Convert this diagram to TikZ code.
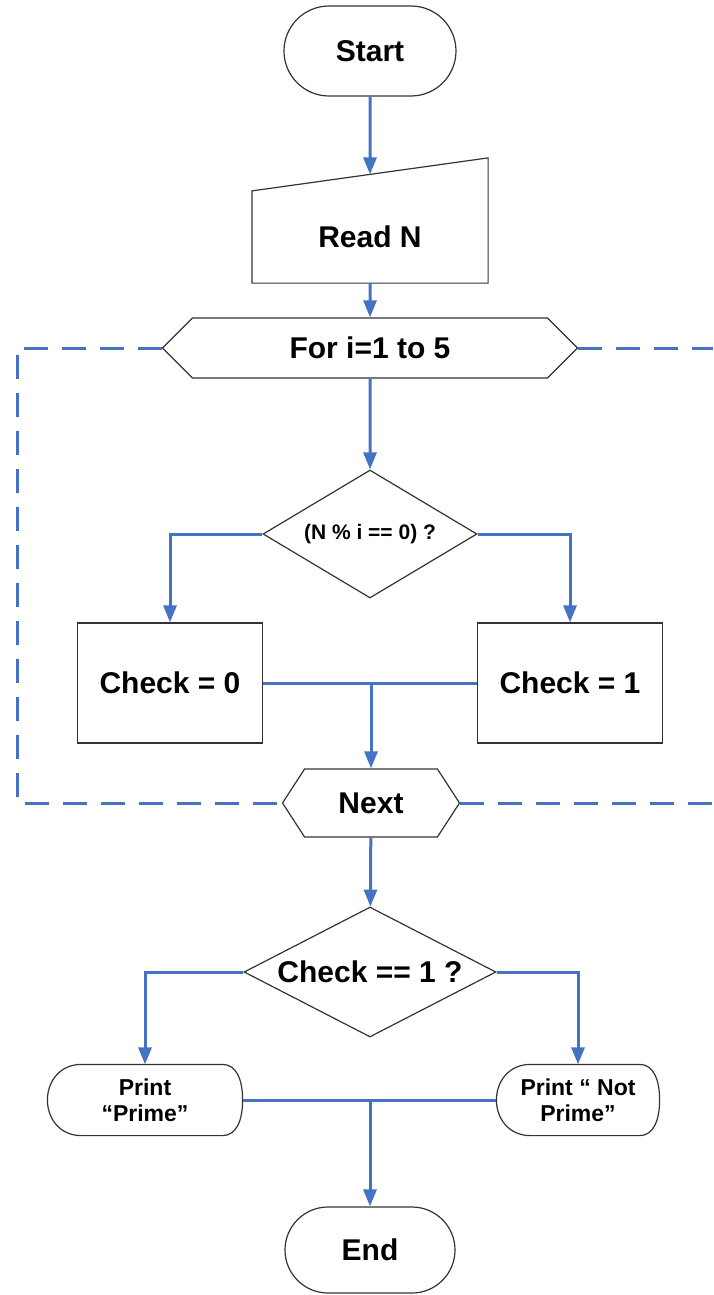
\documentclass[tikz,border=0pt]{standalone}
\usepackage{fontspec}
\setmainfont{Liberation Sans}
\usepackage{tikz}
\usetikzlibrary{shapes.geometric,shapes.misc,shapes.symbols,arrows.meta,calc}
\definecolor{flowblue}{rgb}{0.27,0.45,0.77}
\definecolor{edgegray}{rgb}{0.2,0.2,0.2}
\tikzstyle{blk}=[draw=edgegray, line width=1.2pt, fill=white, inner sep=0pt, align=center, font=\bfseries\fontsize{30}{32}\selectfont]
\tikzstyle{term}=[blk, rounded rectangle, minimum width=172pt, minimum height=90pt]
\tikzstyle{proc}=[blk, rectangle, minimum width=185pt, minimum height=120pt]
\tikzstyle{decide}=[blk, diamond, aspect=1.8]
\tikzstyle{prep}=[blk, signal, signal to=west and east]
\tikzstyle{dispbox}=[blk, draw=none, fill=none, font=\bfseries\fontsize{23}{26}\selectfont]
\tikzstyle{outline}=[draw=edgegray, line width=1.2pt]
\tikzstyle{flow}=[draw=flowblue, line width=3pt]
\tikzstyle{flowarrow}=[flow, -{Triangle[length=17pt,width=13pt]}]
\tikzstyle{loopline}=[draw=flowblue, line width=3pt, dash pattern=on 24pt off 14pt]

\begin{document}
\begin{tikzpicture}[x=1pt, y=-1pt]
  \useasboundingbox (0,0) rectangle (713,1295);

  % blocks
  \node[term] (start) at (370,51) {Start};
  \node[blk, draw=none, minimum width=235pt, minimum height=91pt] (readn) at (370,237) {Read N};
  \draw[outline] (readn.north west) -- ([yshift=33pt]readn.north east) -- (readn.south east) -- (readn.south west) -- cycle;
  \coordinate (readtop) at ($(readn.north west)!0.5!([yshift=33pt]readn.north east)$);
  \node[prep, minimum width=415pt, minimum height=60pt, signal pointer angle=90] (forloop) at (370,348) {For i=1 to 5};
  \node[decide, minimum width=214pt, minimum height=128pt, font=\bfseries\fontsize{21}{24}\selectfont] (test) at (370,534) {(N \% i == 0) ?};
  \node[proc] (check0) at (170,683) {Check = 0};
  \node[proc] (check1) at (570,683) {Check = 1};
  \node[prep, minimum width=177pt, minimum height=68pt, signal pointer angle=114] (nextloop) at (371,803) {Next};
  \node[decide, minimum width=252pt, minimum height=130pt] (result) at (370,972) {Check == 1 ?};
  \node[dispbox, minimum width=194pt, minimum height=70pt] (prime) at (145,1100) {Print\\``Prime''};
  \node[dispbox, minimum width=162pt, minimum height=70pt] (notprime) at (578,1100) {Print `` Not\\Prime''};
  \foreach \n in {prime,notprime}{
    \draw[outline] ([xshift=34pt]\n.north west) -- ([xshift=-20pt]\n.north east)
      .. controls ([xshift=-6pt]\n.north east) and ([yshift=20pt]\n.east) .. (\n.east)
      .. controls ([yshift=-20pt]\n.east) and ([xshift=-6pt]\n.south east) .. ([xshift=-20pt]\n.south east)
      -- ([xshift=34pt]\n.south west)
      .. controls ([xshift=12pt]\n.south west) and ([yshift=-18pt]\n.west) .. (\n.west)
      .. controls ([yshift=18pt]\n.west) and ([xshift=12pt]\n.north west) .. ([xshift=34pt]\n.north west) -- cycle;
  }
  \node[term, minimum width=170pt, minimum height=86pt] (end) at (370,1250) {End};

  % loop frame
  \coordinate (loopx) at (17,0);
  \coordinate (edgex) at (713,0);
  \draw[loopline] (forloop.west) -- (forloop.west -| loopx) -- (nextloop.west -| loopx) -- (nextloop.west);
  \draw[loopline] (forloop.east) -- (forloop.east -| edgex);
  \draw[loopline] (nextloop.east) -- (nextloop.east -| edgex);

  % connectors
  \draw[flowarrow] (start) -- (readtop);
  \draw[flowarrow] (readn) -- (forloop);
  \draw[flowarrow] (forloop) -- (test);
  \draw[flowarrow] (test.west) -| (check0.north);
  \draw[flowarrow] (test.east) -| (check1.north);
  \draw[flow] (check0.east) -- (check1.west);
  \draw[flowarrow] (check0.east -| nextloop.north) -- (nextloop.north);
  \draw[flowarrow] (nextloop) -- (result);
  \draw[flowarrow] (result.west) -| (prime.north);
  \draw[flowarrow] (result.east) -| (notprime.north);
  \draw[flow] (prime.east) -- (notprime.west);
  \draw[flowarrow] (prime.east -| end.north) -- (end.north);
\end{tikzpicture}
\end{document}
